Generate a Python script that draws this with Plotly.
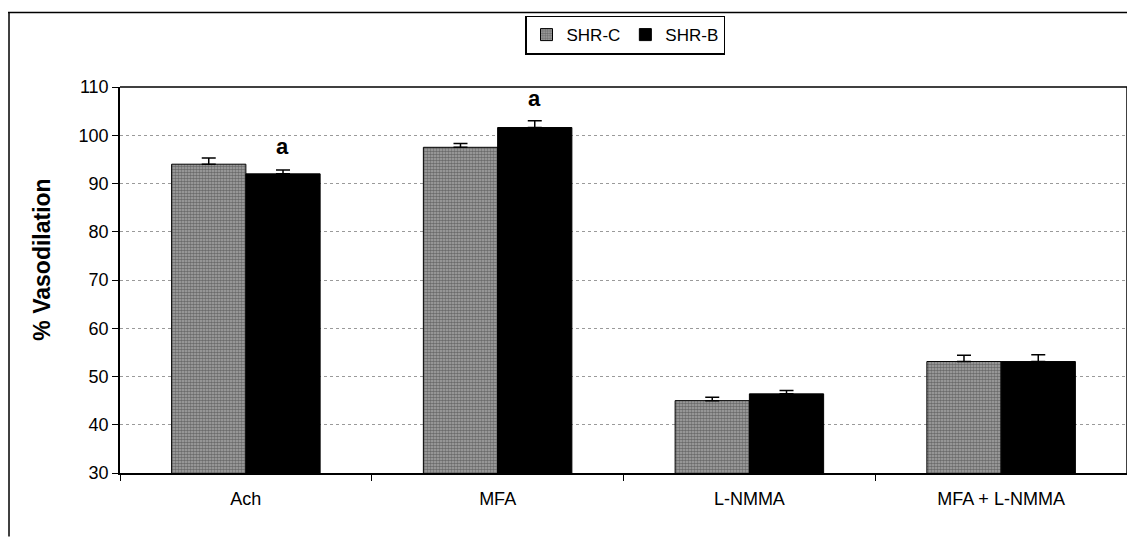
import plotly.graph_objects as go

categories = ["Ach", "MFA", "L-NMMA", "MFA + L-NMMA"]
shr_c = [94.0, 97.5, 45.0, 53.1]
shr_c_err = [1.3, 0.8, 0.7, 1.3]
shr_b = [92.0, 101.6, 46.4, 53.1]
shr_b_err = [0.8, 1.4, 0.7, 1.4]
y_ticks = [30, 40, 50, 60, 70, 80, 90, 100, 110]
sig_labels = [("Ach", 97.6, "a"), ("MFA", 107.6, "a")]
y_title = "% Vasodilation"

FONT = "Arial, Liberation Sans, sans-serif"

# the page body has an 8px margin, so the figure is sized to fit inside it
W, H = 1127, 529
ML, MR, MT, MB = 112, 8, 76, 64
PW, PH = W - ML - MR, H - MT - MB

fig = go.Figure()
fig.add_trace(go.Bar(
    name="SHR-C", x=categories, y=shr_c,
    marker=dict(color="#7a7a7a", line=dict(color="black", width=1),
                pattern=dict(shape=".", fgcolor="#2e2e2e", bgcolor="#a8a8a8",
                             size=3, solidity=0.6)),
    error_y=dict(type="data", array=shr_c_err, arrayminus=[0]*4, symmetric=False,
                 color="black", thickness=1.5, width=7),
))
fig.add_trace(go.Bar(
    name="SHR-B", x=categories, y=shr_b,
    marker=dict(color="black", line=dict(color="black", width=1)),
    error_y=dict(type="data", array=shr_b_err, arrayminus=[0]*4, symmetric=False,
                 color="black", thickness=1.5, width=7),
))

for cat, yv, txt in sig_labels:
    fig.add_annotation(x=cat, y=yv, text="<b>%s</b>" % txt, showarrow=False,
                       xref="x", yref="y", xshift=37,
                       font=dict(family=FONT, size=22, color="black"))

# y axis title, placed like the original (slightly above the plot centre)
fig.add_annotation(x=(42 - 8 - ML) / PW, y=1 - (258 - 8 - MT) / PH, xref="paper", yref="paper",
                   text="<b>%s</b>" % y_title, textangle=-90, showarrow=False,
                   xanchor="center", yanchor="middle",
                   font=dict(family=FONT, size=23, color="black"))

# outer chart frame (left and top edges)
fx0 = -ML / PW
fy1 = 1 + (MT - 1) / PH
fig.add_shape(type="line", xref="paper", yref="paper", x0=fx0, x1=1 + MR / PW,
              y0=fy1, y1=fy1, line=dict(color="black", width=1.5))
fig.add_shape(type="line", xref="paper", yref="paper", x0=fx0 + 0.001, x1=fx0 + 0.001,
              y0=fy1, y1=-MB / PH, line=dict(color="black", width=1.5))

fig.update_layout(
    width=W, height=H,
    margin=dict(l=ML, r=MR, t=MT, b=MB, pad=0),
    paper_bgcolor="white", plot_bgcolor="white",
    barmode="group", bargap=0.41, bargroupgap=0,
    font=dict(family=FONT, size=17, color="black"),
    showlegend=True,
    legend=dict(orientation="h", x=(525 - 8 - ML) / PW, y=1 + (MT - 4) / PH,
                xanchor="left", yanchor="top",
                bordercolor="black", borderwidth=1.5, bgcolor="white",
                font=dict(family=FONT, size=17), itemwidth=30,
                tracegroupgap=0),
    xaxis=dict(type="category", showline=True, linecolor="black", linewidth=1.5,
               ticks="outside", tickson="boundaries", ticklen=6, tickcolor="black",
               showgrid=False, mirror=False, automargin=False, ticklabelstandoff=9,
               tickfont=dict(family=FONT, size=18)),
    yaxis=dict(range=[30, 110], tickvals=y_ticks, showline=True, linecolor="black",
               linewidth=1.5, ticks="outside", ticklen=6, tickcolor="black",
               showgrid=True, gridcolor="#9a9a9a", griddash="dot", gridwidth=1,
               zeroline=False, automargin=False, tickfont=dict(family=FONT, size=18)),
)
# plot area border top and right
fig.add_shape(type="line", xref="paper", yref="paper", x0=0, x1=1, y0=1, y1=1,
              line=dict(color="black", width=1.5))
fig.add_shape(type="line", xref="paper", yref="paper", x0=1, x1=1, y0=0, y1=1,
              line=dict(color="black", width=1.5))

fig.write_html("out.html")
